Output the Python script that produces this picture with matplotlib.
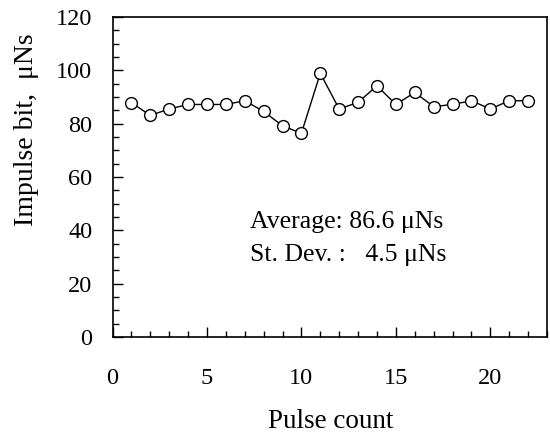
import matplotlib
matplotlib.use("Agg")
import matplotlib.pyplot as plt
from matplotlib.ticker import MultipleLocator

pulse = list(range(1, 23))
impulse = [87.9, 83.1, 85.5, 87.2, 87.2, 87.2, 88.6, 84.6, 79.2, 76.4, 98.9,
           85.5, 88.0, 94.2, 87.2, 91.7, 86.4, 87.2, 88.6, 85.5, 88.6, 88.6]
xticks = [0, 5, 10, 15, 20]
yticks = [0, 20, 40, 60, 80, 100, 120]

plt.rcParams['font.family'] = ['Liberation Serif', 'DejaVu Serif']

fig = plt.figure(figsize=(5.5, 4.37), dpi=100)
ax = fig.add_axes([112.5/550, 100/437, (547-112.5)/550, 320/437])
ax.plot(pulse, impulse, color='black', lw=1.0, marker='o', ms=8.5,
        mfc='white', mec='black', mew=1.0)
ax.set_xlim(0, 23)
ax.set_ylim(0, 120)
ax.set_xticks(xticks)
ax.set_yticks(yticks)
ax.xaxis.set_minor_locator(MultipleLocator(1))
ax.yaxis.set_minor_locator(MultipleLocator(5))
ax.tick_params(which='major', direction='in', length=7, width=1, labelsize=17.5)
ax.tick_params(which='minor', direction='in', length=4, width=1)
ax.tick_params(axis='x', which='major', pad=22)
ax.tick_params(axis='y', which='major', pad=14.5)
for s in ax.spines.values():
    s.set_linewidth(1.2)
ax.set_xlabel('Pulse count', fontsize=19.5)
ax.set_ylabel('Impulse bit,  μNs', fontsize=20)
ax.xaxis.set_label_coords(0.503, (337 - 422) / 320)
ax.xaxis.label.set_va('center')
ax.yaxis.set_label_coords((27 - 112.5) / 434.5, (337 - 130) / 320)
ax.yaxis.label.set_va('center')
ax.text(7.3, (337 - 221.7) / 320 * 120, 'Average: 86.6 μNs', fontsize=18.5, va='center', ha='left')
ax.text(7.3, (337 - 255) / 320 * 120, 'St. Dev. :   4.5 μNs', fontsize=18.5, va='center', ha='left')
fig.savefig('out.png', dpi=100)
